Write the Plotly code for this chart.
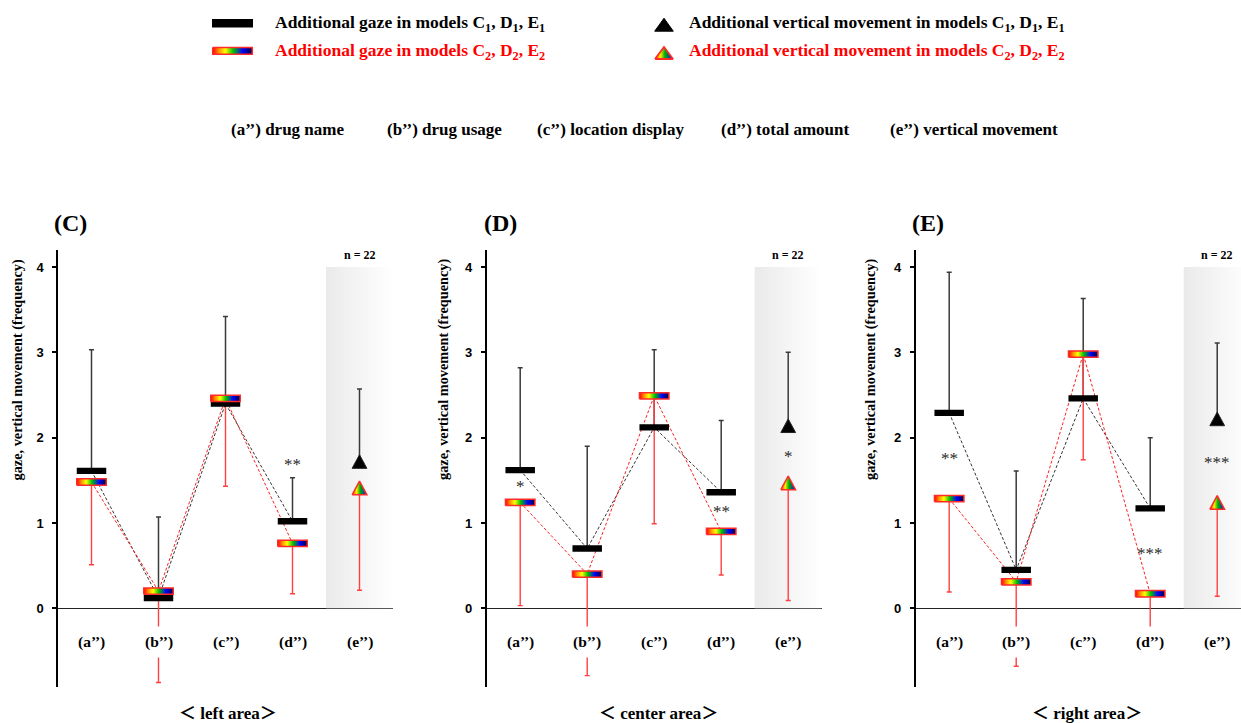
import plotly.graph_objects as go

W, H = 1241, 723
SERIF = "Liberation Serif, Times New Roman, Noto Sans CJK JP, serif"
SANS = "Liberation Sans, Arial, sans-serif"

# ---------------- data ----------------
categories = ["(a’’)", "(b’’)", "(c’’)", "(d’’)", "(e’’)"]
panel_titles = ["(C)", "(D)", "(E)"]
area_labels = ["＜ left area＞", "＜ center area＞", "＜ right area＞"]
item_labels = ["(a’’) drug name", "(b’’) drug usage", "(c’’) location display",
               "(d’’) total amount", "(e’’) vertical movement"]
legend_labels = ["Additional gaze in models C<sub>1</sub>, D<sub>1</sub>, E<sub>1</sub>",
                 "Additional gaze in models C<sub>2</sub>, D<sub>2</sub>, E<sub>2</sub>",
                 "Additional vertical movement in models C<sub>1</sub>, D<sub>1</sub>, E<sub>1</sub>",
                 "Additional vertical movement in models C<sub>2</sub>, D<sub>2</sub>, E<sub>2</sub>"]
y_title = "gaze, vertical movement (frequency)"
y_ticks = [0, 1, 2, 3, 4]
sample_label = "n = 22"

# (C) left area: gaze (a''-d''), vertical movement (e'')
gaze1_C = [1.61, 0.12, 2.40, 1.02]
gaze1_up_C = [3.03, 1.07, 3.42, 1.53]
gaze2_C = [1.48, 0.20, 2.46, 0.76]
gaze2_low_C = [0.51, -0.87, 1.43, 0.17]
vert1_C, vert1_up_C = 1.72, 2.57
vert2_C, vert2_low_C = 1.41, 0.21
star_cat_C = ["(d’’)"]
star_y_C = [1.68]
star_txt_C = ["**"]

# (D) center area
gaze1_D = [1.62, 0.70, 2.12, 1.36]
gaze1_up_D = [2.82, 1.90, 3.03, 2.20]
gaze2_D = [1.24, 0.40, 2.49, 0.90]
gaze2_low_D = [0.03, -0.79, 0.99, 0.39]
vert1_D, vert1_up_D = 2.14, 3.00
vert2_D, vert2_low_D = 1.47, 0.09
star_cat_D = ["(a’’)", "(d’’)", "(e’’)"]
star_y_D = [1.43, 1.13, 1.78]
star_txt_D = ["*", "**", "*"]

# (E) right area
gaze1_E = [2.29, 0.45, 2.46, 1.17]
gaze1_up_E = [3.94, 1.61, 3.63, 2.00]
gaze2_E = [1.285, 0.31, 2.98, 0.17]
gaze2_low_E = [0.19, -0.68, 1.74, -0.30]
vert1_E, vert1_up_E = 2.22, 3.11
vert2_E, vert2_low_E = 1.24, 0.14
star_cat_E = ["(a’’)", "(d’’)", "(e’’)"]
star_y_E = [1.75, 0.645, 1.71]
star_txt_E = ["**", "***", "***"]

# ---------------- styles / geometry ----------------
RAINBOW = [[0, "#ff0000"], [0.15, "#ff8c00"], [0.32, "#ffff00"], [0.52, "#00c000"],
           [0.76, "#0000ff"], [1, "#000033"]]
TRI_RAINBOW = [[0, "#ff2000"], [0.3, "#ffee00"], [0.55, "#00b000"], [1, "#0000ff"]]
SHADE = [[0, "#eaeaea"], [1, "#ffffff"]]
BAR_HW, BAR_HH = 0.22, 0.037       # half width (x units), half height (y units)
TRI_HW, TRI_HH = 0.11, 0.08
X_DOM = [[58 / W, 393 / W], [486.7 / W, 821.7 / W], [915.7 / W, 1.0]]
X_RNG = [[0.5, 5.5], [0.5, 5.5], [0.5, 5.355]]
Y_DOM = [1 - 686.7 / H, 1 - 250 / H]
Y_RNG = [-0.92, 4.2]
TITLE_X = [70, 500, 928]
YTITLE_X = [17.5, 444, 871]
AREA_X = [228, 658, 1087]

panels = [
    dict(g1=gaze1_C, g1u=gaze1_up_C, g2=gaze2_C, g2l=gaze2_low_C, v1=vert1_C, v1u=vert1_up_C,
         v2=vert2_C, v2l=vert2_low_C, sc=star_cat_C, sy=star_y_C, st=star_txt_C),
    dict(g1=gaze1_D, g1u=gaze1_up_D, g2=gaze2_D, g2l=gaze2_low_D, v1=vert1_D, v1u=vert1_up_D,
         v2=vert2_D, v2l=vert2_low_D, sc=star_cat_D, sy=star_y_D, st=star_txt_D),
    dict(g1=gaze1_E, g1u=gaze1_up_E, g2=gaze2_E, g2l=gaze2_low_E, v1=vert1_E, v1u=vert1_up_E,
         v2=vert2_E, v2l=vert2_low_E, sc=star_cat_E, sy=star_y_E, st=star_txt_E),
]

xpos = list(range(1, len(categories) + 1))
pos_of = {c: i + 1 for i, c in enumerate(categories)}


def rect(cx, cy, hw, hh):
    return [cx - hw, cx + hw, cx + hw, cx - hw, cx - hw], [cy - hh, cy - hh, cy + hh, cy + hh, cy - hh]


def tri(cx, cy, hw, hh):
    return [cx - hw, cx + hw, cx, cx - hw], [cy - hh, cy - hh, cy + hh, cy - hh]


fig = go.Figure()
annotations = []

for i, p in enumerate(panels):
    sfx = "" if i == 0 else str(i + 1)
    xa, ya = "x" + sfx, "y" + sfx
    # shaded vertical-movement region
    sx, sy = rect(5.0, 2.0, 0.5, 2.0)
    fig.add_trace(go.Scatter(x=sx, y=sy, xaxis=xa, yaxis=ya, mode="lines", fill="toself",
                             line=dict(width=0), fillgradient=dict(type="horizontal", colorscale=SHADE),
                             hoverinfo="skip", showlegend=False))
    # whiskers: model 1 upwards (gray), model 2 downwards (red)
    m1 = p["g1"] + [p["v1"]]
    u1 = p["g1u"] + [p["v1u"]]
    m2 = p["g2"] + [p["v2"]]
    l2 = p["g2l"] + [p["v2l"]]
    fig.add_trace(go.Scatter(x=xpos, y=m1, xaxis=xa, yaxis=ya, mode="markers",
                             marker=dict(size=1, color="rgba(0,0,0,0)"),
                             error_y=dict(type="data", symmetric=False, array=[u - m for u, m in zip(u1, m1)],
                                          arrayminus=[0] * 5, color="#3a3a3a", thickness=1.5, width=2.5),
                             hoverinfo="skip", showlegend=False))
    fig.add_trace(go.Scatter(x=xpos, y=m2, xaxis=xa, yaxis=ya, mode="markers",
                             marker=dict(size=1, color="rgba(0,0,0,0)"),
                             error_y=dict(type="data", symmetric=False, array=[0] * 5,
                                          arrayminus=[m - l for m, l in zip(m2, l2)],
                                          color="#ff4040", thickness=1.4, width=2.5),
                             hoverinfo="skip", showlegend=False))
    # dashed connections
    fig.add_trace(go.Scatter(x=xpos[:4], y=p["g1"], xaxis=xa, yaxis=ya, mode="lines",
                             line=dict(color="#333333", width=1, dash="3px,2px"), hoverinfo="skip",
                             showlegend=False))
    fig.add_trace(go.Scatter(x=xpos[:4], y=p["g2"], xaxis=xa, yaxis=ya, mode="lines",
                             line=dict(color="#ff2020", width=1, dash="3px,2px"), hoverinfo="skip",
                             showlegend=False))
    # black bars
    bx, by = [], []
    for c, m in zip(xpos[:4], p["g1"]):
        rx, ry = rect(c, m, BAR_HW, BAR_HH)
        bx += rx + [None]
        by += ry + [None]
    fig.add_trace(go.Scatter(x=bx, y=by, xaxis=xa, yaxis=ya, mode="lines", fill="toself",
                             fillcolor="black", line=dict(width=0, color="black"), hoverinfo="skip",
                             showlegend=False))
    # rainbow bars
    for c, m in zip(xpos[:4], p["g2"]):
        rx, ry = rect(c, m, BAR_HW, BAR_HH)
        fig.add_trace(go.Scatter(x=rx, y=ry, xaxis=xa, yaxis=ya, mode="lines", fill="toself",
                                 fillgradient=dict(type="horizontal", colorscale=RAINBOW),
                                 line=dict(width=1.5, color="#ff2a2a"), hoverinfo="skip", showlegend=False))
    # triangles (vertical movement)
    tx, ty = tri(5, p["v1"], TRI_HW, TRI_HH)
    fig.add_trace(go.Scatter(x=tx, y=ty, xaxis=xa, yaxis=ya, mode="lines", fill="toself",
                             fillcolor="black", line=dict(width=1, color="#222"), hoverinfo="skip",
                             showlegend=False))
    tx, ty = tri(5, p["v2"], TRI_HW, TRI_HH)
    fig.add_trace(go.Scatter(x=tx, y=ty, xaxis=xa, yaxis=ya, mode="lines", fill="toself",
                             fillgradient=dict(type="horizontal", colorscale=TRI_RAINBOW),
                             line=dict(width=1.5, color="#ff2a2a"), hoverinfo="skip", showlegend=False))

    # axes
    fig.layout["xaxis" + sfx] = dict(domain=X_DOM[i], range=X_RNG[i], visible=False, fixedrange=True,
                                      anchor=ya)
    fig.layout["yaxis" + sfx] = dict(domain=Y_DOM, range=Y_RNG, anchor=xa, showline=True, linecolor="black",
                                      linewidth=1.5, ticks="outside", ticklen=4, tickwidth=1.5,
                                      tickcolor="black", tickvals=y_ticks, ticklabelstandoff=6,
                                      tickfont=dict(family=SANS, size=13, color="black", weight="bold"),
                                      showgrid=False, zeroline=True, zerolinecolor="#222",
                                      zerolinewidth=1.3, fixedrange=True)

    # text on data axes
    for c in categories:
        annotations.append(dict(x=pos_of[c], y=-0.395, xref=xa, yref=ya, text=c, showarrow=False,
                                xanchor="center", yanchor="middle", bgcolor="white", borderpad=6,
                                font=dict(family=SERIF, size=15.5, color="black", weight="bold")))
    for c, yv, t in zip(p["sc"], p["sy"], p["st"]):
        annotations.append(dict(x=pos_of[c], y=yv, xref=xa, yref=ya, text=t, showarrow=False,
                                xanchor="center", yanchor="middle",
                                font=dict(family=SERIF, size=17, color="#2a2a2a")))
    annotations.append(dict(x=5, y=4.14, xref=xa, yref=ya, text=sample_label, showarrow=False,
                            xanchor="center", yanchor="middle",
                            font=dict(family=SERIF, size=12, color="black", weight="bold")))
    # panel titles, y titles, area labels
    annotations.append(dict(x=TITLE_X[i] / W, y=1 - 223 / H, xref="paper", yref="paper",
                            text=panel_titles[i], showarrow=False, xanchor="center", yanchor="middle",
                            font=dict(family=SERIF, size=24, color="black", weight="bold")))
    annotations.append(dict(x=YTITLE_X[i] / W, y=1 - 370 / H, xref="paper", yref="paper",
                            text=y_title, textangle=-90, showarrow=False, xanchor="center", yanchor="middle",
                            font=dict(family=SERIF, size=14.3, color="black", weight="bold")))
    annotations.append(dict(x=AREA_X[i] / W, y=1 - 713 / H, xref="paper", yref="paper",
                            text=area_labels[i], showarrow=False, xanchor="center", yanchor="middle",
                            font=dict(family=SERIF, size=17, color="black", weight="bold")))

# ---------------- legend (pixel-space helper axis) ----------------
LEG_Y = [23.3, 51.7]
fig.layout["xaxis4"] = dict(domain=[0, 1], range=[0, W], visible=False, fixedrange=True, anchor="y4")
fig.layout["yaxis4"] = dict(domain=[1 - 80 / H, 1], range=[80, 0], visible=False, fixedrange=True, anchor="x4")
rx, ry = rect(232.5, LEG_Y[0], 20.5, 4.3)
fig.add_trace(go.Scatter(x=rx, y=ry, xaxis="x4", yaxis="y4", mode="lines", fill="toself", fillcolor="black",
                         line=dict(width=0, color="black"), hoverinfo="skip", showlegend=False))
rx, ry = rect(232.5, LEG_Y[1] - 0.8, 19.8, 3.4)
fig.add_trace(go.Scatter(x=rx, y=ry, xaxis="x4", yaxis="y4", mode="lines", fill="toself",
                         fillgradient=dict(type="horizontal", colorscale=RAINBOW),
                         line=dict(width=1.5, color="#ff2a2a"), hoverinfo="skip", showlegend=False))
tx, ty = tri(664, 24.7, 9.3, -6.5)
fig.add_trace(go.Scatter(x=tx, y=ty, xaxis="x4", yaxis="y4", mode="lines", fill="toself", fillcolor="black",
                         line=dict(width=1, color="black"), hoverinfo="skip", showlegend=False))
tx, ty = tri(664, 53, 9, -6)
fig.add_trace(go.Scatter(x=tx, y=ty, xaxis="x4", yaxis="y4", mode="lines", fill="toself",
                         fillgradient=dict(type="horizontal", colorscale=TRI_RAINBOW),
                         line=dict(width=1.8, color="#ff2a2a"), hoverinfo="skip", showlegend=False))
leg_pos = [(273, LEG_Y[0], "black"), (273, LEG_Y[1], "#ff0000"), (687, LEG_Y[0], "black"),
           (687, LEG_Y[1], "#ff0000")]
for (lx, ly, col), txt in zip(leg_pos, legend_labels):
    annotations.append(dict(x=lx / W, y=1 - ly / H, xref="paper", yref="paper", text=txt, showarrow=False,
                            xanchor="left", yanchor="middle",
                            font=dict(family=SERIF, size=17.5, color=col, weight="bold")))
ITEM_X = [229, 385, 535, 719, 888]
for lx, txt in zip(ITEM_X, item_labels):
    annotations.append(dict(x=lx / W, y=1 - 129 / H, xref="paper", yref="paper", text=txt, showarrow=False,
                            xanchor="left", yanchor="middle",
                            font=dict(family=SERIF, size=17, color="black", weight="bold")))

fig.update_layout(width=W, height=H, margin=dict(l=0, r=0, t=0, b=0), paper_bgcolor="white",
                  plot_bgcolor="rgba(0,0,0,0)", showlegend=False, annotations=annotations)
fig.write_html("out.html")
